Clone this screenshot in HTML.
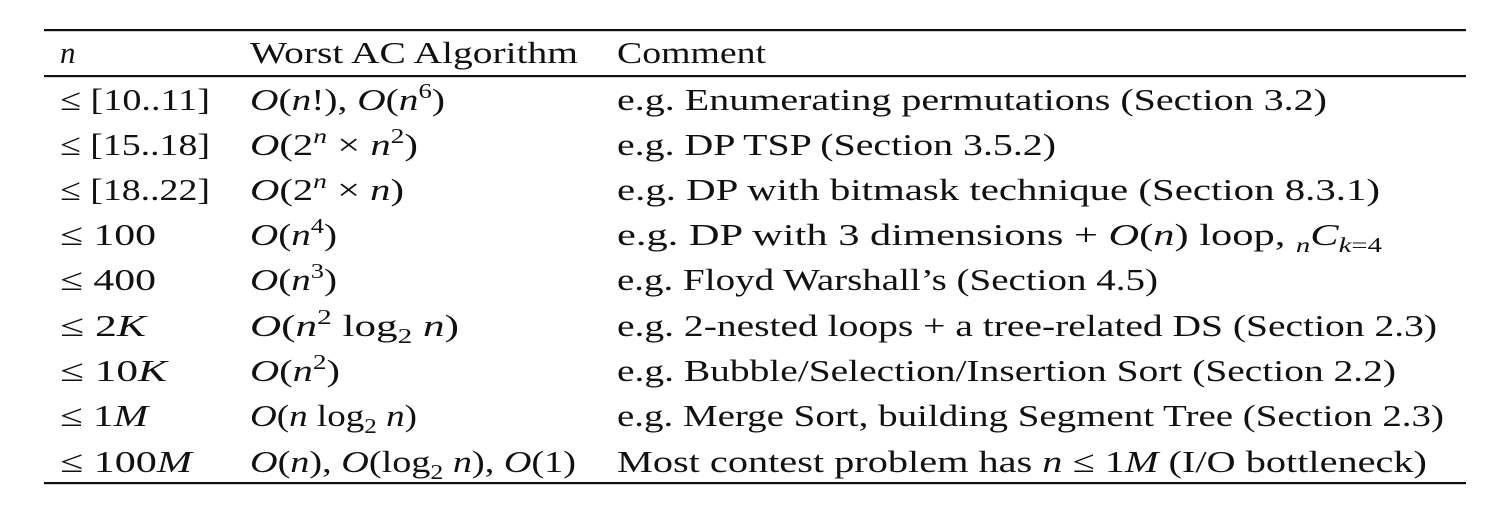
<!DOCTYPE html>
<html><head><meta charset="utf-8">
<style>
html,body{margin:0;padding:0;background:#fff;}
svg{display:block;}
text{font-family:"Liberation Serif","DejaVu Serif",serif;font-size:31px;fill:#111;}
.i{font-style:italic;}
</style></head>
<body>
<svg width="1502" height="512" viewBox="0 0 1502 512">
<rect x="44" y="29" width="1422" height="2.2" fill="#111"/>
<rect x="44" y="75" width="1422" height="2.2" fill="#111"/>
<rect x="44" y="482" width="1422" height="2.2" fill="#111"/>

<g>
<text x="60" y="63" class="i">n</text>
<text x="250" y="63" textLength="328" lengthAdjust="spacingAndGlyphs">Worst AC Algorithm</text>
<text x="617" y="63" textLength="149" lengthAdjust="spacingAndGlyphs">Comment</text>
</g>

<g>
<text x="60" y="110" textLength="150" lengthAdjust="spacingAndGlyphs">≤ [10..11]</text>
<text x="250" y="110" textLength="195" lengthAdjust="spacingAndGlyphs"><tspan class="i">O</tspan>(<tspan class="i">n</tspan>!), <tspan class="i">O</tspan>(<tspan class="i">n</tspan><tspan font-size="21" dy="-12">6</tspan><tspan dy="12">)</tspan></text>
<text x="617" y="110" textLength="710" lengthAdjust="spacingAndGlyphs">e.g. Enumerating permutations (Section 3.2)</text>
</g>

<g>
<text x="60" y="155" textLength="150" lengthAdjust="spacingAndGlyphs">≤ [15..18]</text>
<text x="250" y="155" textLength="168" lengthAdjust="spacingAndGlyphs"><tspan class="i">O</tspan>(2<tspan font-size="21" dy="-12" class="i">n</tspan><tspan dy="12"> × </tspan><tspan class="i">n</tspan><tspan font-size="21" dy="-12">2</tspan><tspan dy="12">)</tspan></text>
<text x="617" y="155" textLength="439" lengthAdjust="spacingAndGlyphs">e.g. DP TSP (Section 3.5.2)</text>
</g>

<g>
<text x="60" y="200" textLength="150" lengthAdjust="spacingAndGlyphs">≤ [18..22]</text>
<text x="250" y="200" textLength="154" lengthAdjust="spacingAndGlyphs"><tspan class="i">O</tspan>(2<tspan font-size="21" dy="-12" class="i">n</tspan><tspan dy="12"> × </tspan><tspan class="i">n</tspan>)</text>
<text x="617" y="200" textLength="763" lengthAdjust="spacingAndGlyphs">e.g. DP with bitmask technique (Section 8.3.1)</text>
</g>

<g>
<text x="60" y="245" textLength="96" lengthAdjust="spacingAndGlyphs">≤ 100</text>
<text x="250" y="245" textLength="87" lengthAdjust="spacingAndGlyphs"><tspan class="i">O</tspan>(<tspan class="i">n</tspan><tspan font-size="21" dy="-12">4</tspan><tspan dy="12">)</tspan></text>
<text x="617" y="245" textLength="765" lengthAdjust="spacingAndGlyphs">e.g. DP with 3 dimensions + <tspan class="i">O</tspan>(<tspan class="i">n</tspan>) loop, <tspan class="i" font-size="21" dy="7">n</tspan><tspan class="i" dy="-7">C</tspan><tspan font-size="21" dy="7"><tspan class="i">k</tspan>=4</tspan></text>
</g>

<g>
<text x="60" y="290" textLength="96" lengthAdjust="spacingAndGlyphs">≤ 400</text>
<text x="250" y="290" textLength="87" lengthAdjust="spacingAndGlyphs"><tspan class="i">O</tspan>(<tspan class="i">n</tspan><tspan font-size="21" dy="-12">3</tspan><tspan dy="12">)</tspan></text>
<text x="617" y="290" textLength="541" lengthAdjust="spacingAndGlyphs">e.g. Floyd Warshall’s (Section 4.5)</text>
</g>

<g>
<text x="60" y="336" textLength="86" lengthAdjust="spacingAndGlyphs">≤ 2<tspan class="i">K</tspan></text>
<text x="250" y="336" textLength="209" lengthAdjust="spacingAndGlyphs"><tspan class="i">O</tspan>(<tspan class="i">n</tspan><tspan font-size="21" dy="-12">2</tspan><tspan dy="12"> log</tspan><tspan font-size="21" dy="7">2</tspan><tspan dy="-7" class="i"> n</tspan>)</text>
<text x="617" y="336" textLength="820" lengthAdjust="spacingAndGlyphs">e.g. 2-nested loops + a tree-related DS (Section 2.3)</text>
</g>

<g>
<text x="60" y="381" textLength="107" lengthAdjust="spacingAndGlyphs">≤ 10<tspan class="i">K</tspan></text>
<text x="250" y="381" textLength="90" lengthAdjust="spacingAndGlyphs"><tspan class="i">O</tspan>(<tspan class="i">n</tspan><tspan font-size="21" dy="-12">2</tspan><tspan dy="12">)</tspan></text>
<text x="617" y="381" textLength="779" lengthAdjust="spacingAndGlyphs">e.g. Bubble/Selection/Insertion Sort (Section 2.2)</text>
</g>

<g>
<text x="60" y="426" textLength="88" lengthAdjust="spacingAndGlyphs">≤ 1<tspan class="i">M</tspan></text>
<text x="250" y="426" textLength="167" lengthAdjust="spacingAndGlyphs"><tspan class="i">O</tspan>(<tspan class="i">n</tspan> log<tspan font-size="21" dy="7">2</tspan><tspan dy="-7" class="i"> n</tspan>)</text>
<text x="617" y="426" textLength="827" lengthAdjust="spacingAndGlyphs">e.g. Merge Sort, building Segment Tree (Section 2.3)</text>
</g>

<g>
<text x="60" y="472" textLength="132" lengthAdjust="spacingAndGlyphs">≤ 100<tspan class="i">M</tspan></text>
<text x="250" y="472" textLength="326" lengthAdjust="spacingAndGlyphs"><tspan class="i">O</tspan>(<tspan class="i">n</tspan>), <tspan class="i">O</tspan>(log<tspan font-size="21" dy="7">2</tspan><tspan dy="-7" class="i"> n</tspan>), <tspan class="i">O</tspan>(1)</text>
<text x="617" y="472" textLength="810" lengthAdjust="spacingAndGlyphs">Most contest problem has <tspan class="i">n</tspan> ≤ 1<tspan class="i">M</tspan> (I/O bottleneck)</text>
</g>
</svg>
</body></html>
